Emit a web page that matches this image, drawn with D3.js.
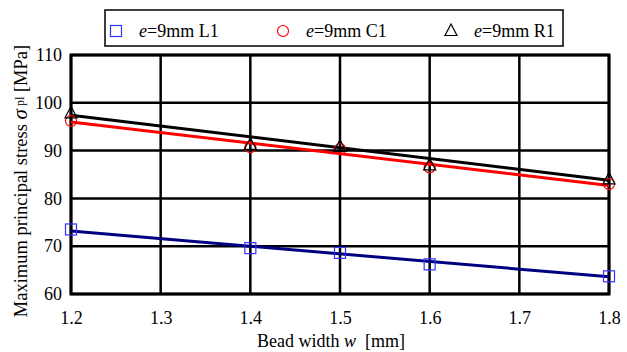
<!DOCTYPE html>
<html>
<head>
<meta charset="utf-8">
<script src="https://cdn.jsdelivr.net/npm/d3@7"></script>
<style>
  body { margin: 0; background: #fff; }
  svg, svg text { font-family: "Liberation Serif", "Times New Roman", Times, serif; }
</style>
</head>
<body>
<div id="chart"></div>
<script>
// bead width [mm]
const widths = [1.2, 1.4, 1.5, 1.6, 1.8];
// measured max principal stress [MPa]
const stressL1 = [73.5, 69.6, 68.6, 66.2, 63.7];
const stressC1 = [96.2, 90.7, 90.3, 86.5, 83.0];
const stressR1 = [97.8, 91.2, 90.8, 86.9, 84.0];
// trend line values at the ends of the x range
const trendX = [1.2, 1.8];
const trendL1 = [73.2, 63.6];
const trendC1 = [96.0, 82.7];
const trendR1 = [97.4, 83.8];

const xTicks = [1.2, 1.3, 1.4, 1.5, 1.6, 1.7, 1.8];
const yTicks = [60, 70, 80, 90, 100, 110];

const series = [
  { name: "L1", values: stressL1, trend: trendL1, line: "#000080", mark: "#3333ff", shape: "square" },
  { name: "C1", values: stressC1, trend: trendC1, line: "#ff0000", mark: "#ff0000", shape: "circle" },
  { name: "R1", values: stressR1, trend: trendR1, line: "#000000", mark: "#000000", shape: "triangle" }
];

const serif = '"Liberation Serif", "Times New Roman", Times, serif';
const W = 627, H = 352;
const margin = { top: 55, right: 18, bottom: 58, left: 71 };
const width = W - margin.left - margin.right;
const height = H - margin.top - margin.bottom;

const svg = d3.select("#chart").append("svg")
  .attr("width", W).attr("height", H)
  .attr("font-family", serif);

const g = svg.append("g")
  .attr("transform", `translate(${margin.left},${margin.top})`);

const x = d3.scaleLinear().domain([1.2, 1.8]).range([0, width]);
const y = d3.scaleLinear().domain([60, 110]).range([height, 0]);

// grid
g.selectAll(".vgrid").data(xTicks).enter().append("line")
  .attr("x1", d => x(d)).attr("x2", d => x(d))
  .attr("y1", 0).attr("y2", height)
  .attr("stroke", "#000").attr("stroke-width", 2.5);
g.selectAll(".hgrid").data(yTicks).enter().append("line")
  .attr("x1", 0).attr("x2", width)
  .attr("y1", d => y(d)).attr("y2", d => y(d))
  .attr("stroke", "#000").attr("stroke-width", 2.5);
g.append("rect")
  .attr("width", width).attr("height", height)
  .attr("fill", "none").attr("stroke", "#000").attr("stroke-width", 3);

// axes
const xAxis = g.append("g")
  .attr("transform", `translate(0,${height})`)
  .call(d3.axisBottom(x).tickValues(xTicks).tickFormat(d3.format(".1f")).tickSize(0).tickPadding(17));
const yAxis = g.append("g")
  .call(d3.axisLeft(y).tickValues(yTicks).tickSize(0).tickPadding(9));
[xAxis, yAxis].forEach(a => {
  a.attr("font-family", serif).attr("font-size", 18);
  a.select(".domain").remove();
  a.selectAll("text").attr("fill", "#000");
});

// trend lines
const line = d3.line().x(d => x(d[0])).y(d => y(d[1]));
series.forEach(s => {
  g.append("path")
    .datum(trendX.map((v, i) => [v, s.trend[i]]))
    .attr("fill", "none").attr("stroke", s.line).attr("stroke-width", 3)
    .attr("d", line);
});

// markers
function drawMark(sel, shape, color) {
  if (shape === "square") {
    sel.append("rect").attr("x", -5.5).attr("y", -5.5).attr("width", 11).attr("height", 11)
      .attr("fill", "none").attr("stroke", color).attr("stroke-width", 1.2);
  } else if (shape === "circle") {
    sel.append("circle").attr("r", 5.5)
      .attr("fill", "none").attr("stroke", color).attr("stroke-width", 1.2);
  } else {
    sel.append("path").attr("d", "M0,-7L6,4.5L-6,4.5Z")
      .attr("fill", "none").attr("stroke", color).attr("stroke-width", 1.2);
  }
}
series.forEach(s => {
  widths.forEach((w, i) => {
    const m = g.append("g").attr("transform", `translate(${x(w)},${y(s.values[i])})`);
    drawMark(m, s.shape, s.mark);
  });
});

// axis titles
const xt = svg.append("text")
  .attr("x", 331).attr("y", 347)
  .attr("text-anchor", "middle").attr("font-size", 18);
xt.append("tspan").text("Bead width ");
xt.append("tspan").attr("font-style", "italic").text("w");
xt.append("tspan").attr("xml:space", "preserve").text("  [mm]");

const yt = svg.append("text")
  .attr("transform", "translate(27,181) rotate(-90)")
  .attr("text-anchor", "middle").attr("font-size", 18.5);
yt.append("tspan").text("Maximum principal stress ");
yt.append("tspan").attr("font-style", "italic").attr("font-size", 21).text("σ");
yt.append("tspan").attr("font-size", 12).attr("dy", -3).text(" pl");
yt.append("tspan").attr("dy", 3).text(" [MPa]");

// legend
const lg = svg.append("g");
lg.append("rect").attr("x", 105).attr("y", 10).attr("width", 458).attr("height", 36)
  .attr("fill", "#fff").attr("stroke", "#000").attr("stroke-width", 1.5);
const legendX = [116, 283, 451];
series.forEach((s, i) => {
  const m = lg.append("g").attr("transform", `translate(${legendX[i]},31)`);
  drawMark(m, s.shape, s.mark);
  const t = lg.append("text").attr("x", legendX[i] + 23).attr("y", 37).attr("font-size", 18);
  t.append("tspan").attr("font-style", "italic").text("e");
  t.append("tspan").text("=9mm " + s.name);
});
</script>
</body>
</html>
